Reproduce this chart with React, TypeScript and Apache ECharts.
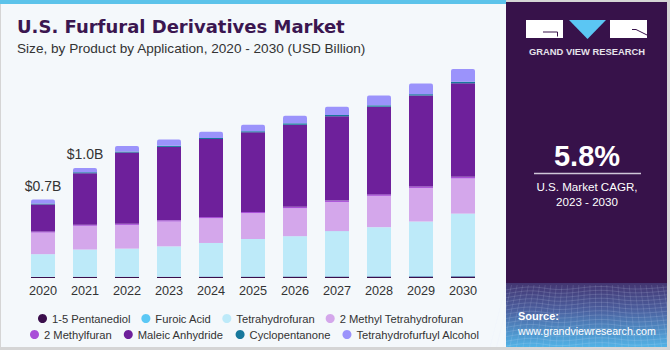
import React, { useEffect, useRef } from "react";
import * as echarts from "echarts";

const years = ["2020", "2021", "2022", "2023", "2024", "2025", "2026", "2027", "2028", "2029", "2030"];
const pentanediol = [0.009, 0.010, 0.010, 0.010, 0.011, 0.011, 0.012, 0.012, 0.013, 0.013, 0.014];
const furoicAcid = [0.002, 0.002, 0.002, 0.002, 0.003, 0.003, 0.003, 0.003, 0.003, 0.004, 0.004];
const tetrahydrofuran = [0.200, 0.240, 0.248, 0.268, 0.296, 0.331, 0.355, 0.400, 0.434, 0.483, 0.552];
const methylTHF = [0.191, 0.210, 0.210, 0.220, 0.219, 0.229, 0.248, 0.258, 0.277, 0.297, 0.311];
const methylfuran = [0.009, 0.010, 0.010, 0.010, 0.011, 0.011, 0.012, 0.012, 0.013, 0.013, 0.014];
const maleicAnhydride = [0.240, 0.455, 0.630, 0.650, 0.690, 0.704, 0.726, 0.746, 0.776, 0.805, 0.828];
const cyclopentanone = [0.008, 0.009, 0.009, 0.010, 0.010, 0.010, 0.013, 0.012, 0.012, 0.012, 0.014];
const thfAlcohol = [0.035, 0.038, 0.050, 0.056, 0.055, 0.057, 0.067, 0.073, 0.088, 0.095, 0.112];
const totalLabels = ["$0.7B", "$1.0B", "", "", "", "", "", "", "", "", ""];

const seriesNames = [
  "1-5 Pentanediol",
  "Furoic Acid",
  "Tetrahydrofuran",
  "2 Methyl Tetrahydrofuran",
  "2 Methylfuran",
  "Maleic Anhydride",
  "Cyclopentanone",
  "Tetrahydrofurfuyl Alcohol",
];
const seriesData = [pentanediol, furoicAcid, tetrahydrofuran, methylTHF, methylfuran, maleicAnhydride, cyclopentanone, thfAlcohol];
const seriesColors = ["#3b0f4c", "#5bc8f5", "#bdeaf9", "#d4a7eb", "#a94fd8", "#6e209b", "#17789c", "#9b93fb"];

const FONT = "'Liberation Sans', Arial, sans-serif";

export default function App() {
  const ref = useRef<HTMLDivElement>(null);
  useEffect(() => {
    document.body.style.margin = "0";
    if (!ref.current) return;
    const chart = echarts.init(ref.current, undefined, { renderer: "svg" });

    const series: any[] = seriesNames.map((name, i) => {
      const isTop = i === seriesNames.length - 1;
      return {
        name,
        type: "bar",
        stack: "total",
        barWidth: 24,
        itemStyle: { color: seriesColors[i], borderRadius: isTop ? [2, 2, 0, 0] : 0 },
        emphasis: { disabled: true },
        data: seriesData[i].map((v, j) => {
          if (isTop && totalLabels[j]) {
            return {
              value: v,
              label: {
                show: true,
                position: "top",
                distance: 7,
                formatter: totalLabels[j],
                fontSize: 14,
                color: "#333",
                fontFamily: FONT,
              },
            };
          }
          return v;
        }),
      };
    });

    // background grid pattern in the bottom of the right panel
    const gridLines: any[] = [];
    for (let k = 0; k < 16; k++) {
      const y = 288 + k * 3.8 + k * k * 0.04;
      gridLines.push({
        type: "polyline",
        silent: true,
        z: 2,
        shape: { points: [[506, y + 2], [530, y - 1], [560, y + 1.5], [600, y - 1.5], [635, y + 1], [667, y - 1]], smooth: 0.4 },
        style: { stroke: "rgba(220,235,255,0.22)", lineWidth: 0.7, fill: null },
      });
    }
    for (let k = 0; k < 30; k++) {
      const xTop = 506 + k * 5.6;
      const xBot = 490 + k * 6.6;
      gridLines.push({
        type: "line",
        silent: true,
        z: 2,
        shape: { x1: xTop, y1: 285, x2: xBot, y2: 347 },
        style: { stroke: "rgba(220,235,255,0.18)", lineWidth: 0.7 },
      });
    }

    const legendCommon = {
      icon: "circle",
      itemWidth: 9,
      itemHeight: 9,
      textStyle: { fontSize: 11.2, color: "#333", fontFamily: FONT },
      selectedMode: false,
    };

    const block = (x: number) => ({
      type: "line",
      z: 5,
      silent: true,
      shape: { x1: x, y1: 29, x2: x + 37, y2: 29 },
      style: { stroke: "#ffffff", lineWidth: 18, lineCap: "butt" },
    });

    chart.setOption({
      animation: false,
      backgroundColor: "#d5d5d5",
      textStyle: { fontFamily: FONT },
      grid: { left: 22, width: 462, top: 52, bottom: 72 },
      xAxis: {
        type: "category",
        data: years,
        axisLine: { show: false },
        axisTick: { show: false },
        axisLabel: { color: "#333", fontSize: 12.7, margin: 6, fontFamily: FONT },
      },
      yAxis: { type: "value", min: 0, max: 2, show: false, splitLine: { show: false } },
      legend: [
        { ...legendCommon, itemGap: 11, left: 33, top: 308, data: seriesNames.slice(0, 4) },
        { ...legendCommon, itemGap: 12, left: 25, top: 324, data: seriesNames.slice(4) },
      ],
      graphic: {
        elements: [
          { type: "rect", z: 0, silent: true, shape: { x: 1, y: 0, width: 505, height: 347 }, style: { fill: "#f4f8fb" } },
          { type: "rect", z: 1, silent: true, shape: { x: 0, y: 0, width: 506, height: 4 }, style: { fill: "#5cc3ea" } },
          { type: "rect", z: 1, silent: true, shape: { x: 506, y: 2, width: 161, height: 345 }, style: { fill: "#37124a" } },
          {
            type: "rect",
            z: 1,
            silent: true,
            shape: { x: 506, y: 283, width: 161, height: 64 },
            style: {
              fill: new echarts.graphic.LinearGradient(0, 0, 0, 1, [
                { offset: 0, color: "#433571" },
                { offset: 0.4, color: "#4b5d9c" },
                { offset: 1, color: "#52b3e6" },
              ]),
            },
          },
          ...gridLines,
          {
            type: "text",
            silent: true,
            z: 5,
            left: 17,
            top: 17,
            style: { text: "U.S. Furfural Derivatives Market", fontSize: 18, fontWeight: "bold", fill: "#3b1650", fontFamily: "'DejaVu Sans', sans-serif" },
          },
          {
            type: "text",
            silent: true,
            z: 5,
            left: 17,
            top: 41,
            style: { text: "Size, by Product by Application, 2020 - 2030 (USD Billion)", fontSize: 13.6, fill: "#333", fontFamily: FONT },
          },
          // logo
          block(526),
          { type: "polyline", z: 6, silent: true, shape: { points: [[543, 32], [557.5, 32], [557.5, 36.5]] }, style: { stroke: "#37124a", lineWidth: 1, fill: null } },
          { type: "polygon", z: 5, silent: true, shape: { points: [[569, 20], [606, 20], [587.5, 39]] }, style: { fill: "#5bc6f3" } },
          block(610),
          { type: "polyline", z: 6, silent: true, shape: { points: [[632, 29.5], [636, 29.5], [647, 35]] }, style: { stroke: "#37124a", lineWidth: 1, fill: null } },
          {
            type: "text",
            silent: true,
            z: 5,
            x: 587,
            y: 51,
            style: { text: "GRAND VIEW RESEARCH", fontSize: 9.4, fontWeight: "bold", fill: "#e6e2ea", align: "center", verticalAlign: "middle", fontFamily: FONT },
          },
          {
            type: "text",
            silent: true,
            z: 5,
            x: 587,
            y: 156,
            style: { text: "5.8%", fontSize: 29, fontWeight: "bold", fill: "#ffffff", align: "center", verticalAlign: "middle", fontFamily: FONT },
          },
          { type: "line", z: 5, silent: true, shape: { x1: 534, y1: 173.5, x2: 641, y2: 173.5 }, style: { stroke: "#cfc6d8", lineWidth: 1.5 } },
          {
            type: "text",
            silent: true,
            z: 5,
            x: 587,
            y: 186,
            style: { text: "U.S. Market CAGR,", fontSize: 11.6, fill: "#ffffff", align: "center", verticalAlign: "middle", fontFamily: FONT },
          },
          {
            type: "text",
            silent: true,
            z: 5,
            x: 587,
            y: 201.5,
            style: { text: "2023 - 2030", fontSize: 11.6, fill: "#ffffff", align: "center", verticalAlign: "middle", fontFamily: FONT },
          },
          {
            type: "text",
            silent: true,
            z: 5,
            x: 518,
            y: 316,
            style: { text: "Source:", fontSize: 11, fontWeight: "bold", fill: "#ffffff", verticalAlign: "middle", fontFamily: FONT },
          },
          {
            type: "text",
            silent: true,
            z: 5,
            x: 518,
            y: 331,
            style: { text: "www.grandviewresearch.com", fontSize: 10.6, fill: "#ffffff", verticalAlign: "middle", fontFamily: FONT },
          },
        ],
      },
      series,
    });
    return () => chart.dispose();
  }, []);
  return <div ref={ref} style={{ width: 670, height: 350 }} />;
}
